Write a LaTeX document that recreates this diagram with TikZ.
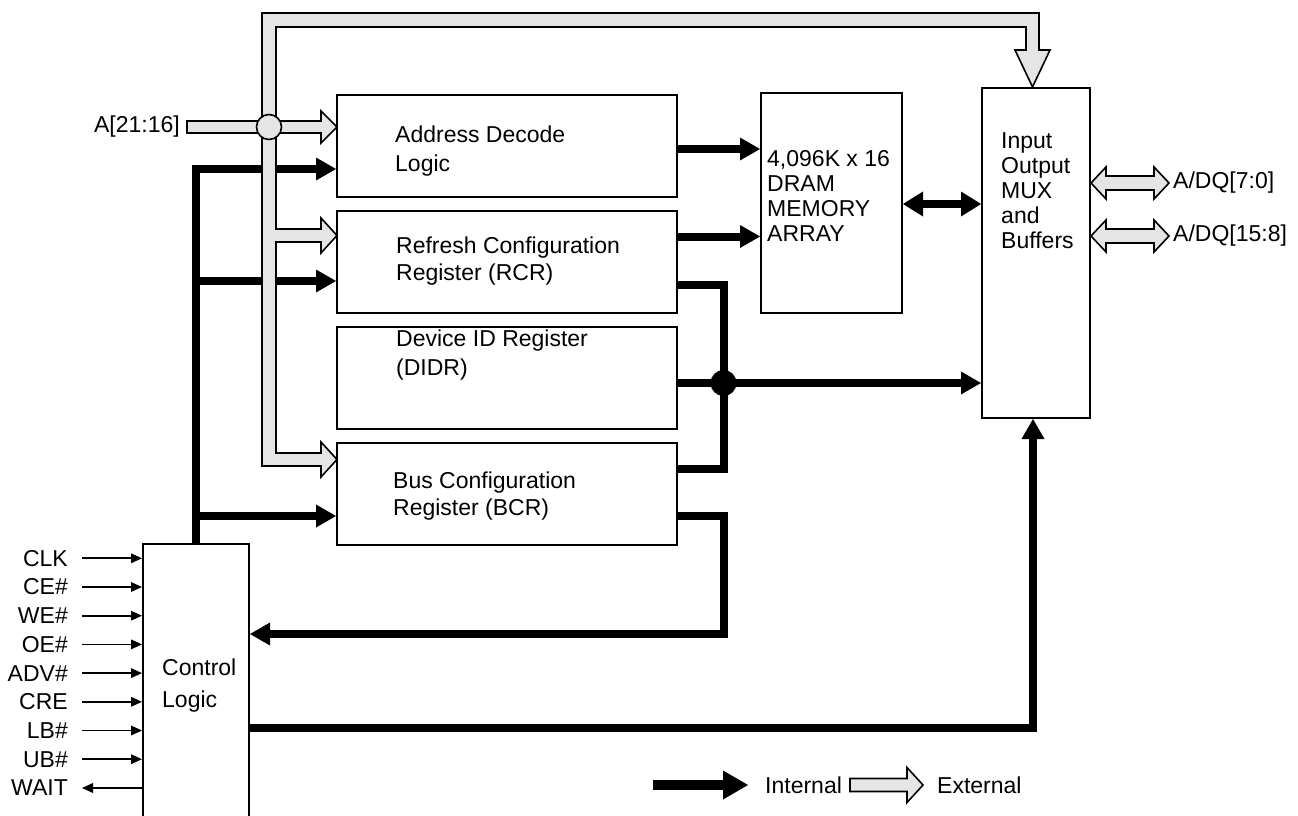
\documentclass[tikz,border=0pt]{standalone}
\usepackage{fontspec}
\setmainfont{Liberation Sans}
\usetikzlibrary{positioning}
\usetikzlibrary{arrows.meta}
\definecolor{busgrey}{gray}{0.9}

\begin{document}
\begin{tikzpicture}[x=1pt,y=-1pt,node distance=116pt,
    every node/.style={font=\fontsize{23}{27}\selectfont},
    blk/.style={draw,line width=2pt,inner sep=0pt,minimum width=340pt,minimum height=102pt,on grid},
    txt/.style={align=left,inner sep=0pt},
    lbl/.style={inner sep=0pt},
    int/.style={line width=8pt,-{Triangle[length=20pt,width=23pt,line width=0pt]}},
    wire/.style={line width=8pt},
    bus/.style={draw,fill=busgrey,line width=1.6pt,line join=miter},
    sig/.style={line width=1.8pt,-{Triangle[length=11pt,width=10pt,line width=0pt]}}]
   \useasboundingbox (0,0) rectangle (1298,816);
   \node[blk] (adl) at (507,146) {};
   \node[blk] (rcr) [below=of adl] {};
   \node[blk] (didr) [below=of rcr] {};
   \node[blk] (bcr) [below=of didr] {};
   \node[blk,minimum width=141pt,minimum height=220pt] (dram) at (831.5,203) {};
   \node[blk,minimum width=108pt,minimum height=330pt] (io) at (1036,253) {};
   \node[blk,minimum width=106pt,minimum height=277pt,anchor=north] (ctl) at (196,543) {};

   \node[txt,font=\fontsize{23}{29}\selectfont] (adl_t) [below right=32pt and 59pt of adl.north west] {Address Decode\\Logic};
   \node[txt] (rcr_t) [below right=27pt and 60pt of rcr.north west] {Refresh Configuration\\Register (RCR)};
   \node[txt,font=\fontsize{23}{29}\selectfont] (didr_t) [below right=4pt and 60pt of didr.north west] {Device ID Register\\(DIDR)};
   \node[txt] (bcr_t) [below right=30pt and 57pt of bcr.north west] {Bus Configuration\\Register (BCR)};
   \node[txt,font=\fontsize{23}{32}\selectfont] (ctl_t) [below right=116pt and 20pt of ctl.north west] {Control\\Logic};
   \node[txt,font=\fontsize{23}{25}\selectfont] (dram_t) [below right=58pt and 7pt of dram.north west] {4,096K x 16\\DRAM\\MEMORY\\ARRAY};
   \node[txt,font=\fontsize{23}{25}\selectfont] (io_t) [below right=45pt and 20pt of io.north west] {Input\\Output\\MUX\\and\\Buffers};

   \coordinate (jn) at (723.5,383);
   \coordinate (fb) at (723.5,634);
   \draw[int] (ctl.north) |- ([yshift=-23pt]adl.west);
   \draw[int] (ctl.north) |- ([yshift=-19pt]rcr.west);
   \draw[int] (ctl.north) |- ([yshift=-22pt]bcr.west);
   \draw[int] ([yshift=-3pt]adl.east) coordinate (a1) -- (a1 -| dram.west);
   \draw[int] ([yshift=25.5pt]rcr.east) coordinate (r1) -- (r1 -| dram.west);
   \draw[{Triangle[length=20pt,width=25pt,line width=0pt]}-{Triangle[length=20pt,width=25pt,line width=0pt]},line width=8pt]
      ([yshift=-1pt]dram.east) coordinate (d1) -- (d1 -| io.west);
   \draw[wire] ([yshift=-23pt]rcr.east) -| (jn) |- ([yshift=25pt]bcr.east);
   \draw[int] ([yshift=-5pt]didr.east) -- (jn -| io.west);
   \fill (jn) circle (13pt);
   \draw[int] ([yshift=-22pt]bcr.east) -| (fb) -- (fb -| ctl.east);
   \draw[int] ([yshift=-185pt]ctl.north east) -| ([xshift=-3pt]io.south);

   \draw[bus] (262,466) -- (262,13) -- (1039,13) -- (1039,50) -- (1050,50) -- (1032.5,87) -- (1015,50)
      -- (1026,50) -- (1026,27) -- (276,27) -- (276,229) -- (321,229) -- (321,218) -- (337,235.5)
      -- (321,253) -- (321,242) -- (276,242) -- (276,453) -- (321,453) -- (321,442) -- (337,459.5)
      -- (321,477) -- (321,466) -- cycle;
   \node[lbl,anchor=east] (addr) at (180,127) {A[21:16]};
   \draw[bus] ([xshift=7pt]addr.east) -- ++(0,-6) -- ++(134,0) -- ++(0,-10) -- ++(16,16) -- ++(-16,16)
      -- ++(0,-10) -- ++(-134,0) -- cycle;
   \draw[bus] (269,127) circle (12.5pt);

   \node[lbl,anchor=west] (dq0) at (1173,183) {A/DQ[7:0]};
   \node[lbl,anchor=west] (dq1) at (1173,236) {A/DQ[15:8]};
   \foreach \dq in {dq0,dq1}
      \draw[bus] (io.east |- \dq.west) -- ++(15,-16) -- ++(0,9) -- ++(48,0) -- ++(0,-9) -- ++(15,16)
         -- ++(-15,16) -- ++(0,-9) -- ++(-48,0) -- ++(0,9) -- cycle;

   \foreach \pin/\nm [count=\i from 0] in {CLK/clk,CE\#/ce,WE\#/we,OE\#/oe,ADV\#/adv,CRE/cre,LB\#/lb,UB\#/ub}{
      \node[lbl,anchor=east] (\nm) at (68,558.3+28.7*\i) {\pin};
      \draw[sig] ([xshift=14pt]\nm.east) -- (\nm.east -| ctl.west);
   }
   \node[lbl,anchor=east] (wait) at (68,788) {WAIT};
   \draw[sig] (wait.east -| ctl.west) -- ([xshift=14pt]wait.east);

   \node[lbl,anchor=west] (intl) at (765,785) {Internal};
   \node[lbl,anchor=west] (extl) at (937,785) {External};
   \draw[line width=10pt,-{Triangle[length=25pt,width=29pt,line width=0pt]}] ([xshift=-112pt]intl.west) -- ([xshift=-17pt]intl.west);
   \draw[bus] ([xshift=-14pt]extl.west) -- ++(-16,-17.5) -- ++(0,11) -- ++(-57,0) -- ++(0,13) -- ++(57,0)
      -- ++(0,11) -- cycle;
\end{tikzpicture}
\end{document}
